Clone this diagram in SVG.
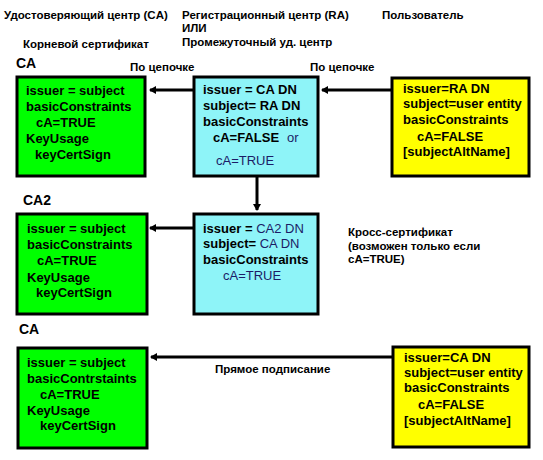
<svg xmlns="http://www.w3.org/2000/svg" width="543" height="460" viewBox="0 0 543 460">
<style>
text{font-family:"Liberation Sans",Arial,sans-serif;font-weight:bold;fill:#000}
.h{font-size:11.5px}
.ca{font-size:14px}
.b{font-size:13px}
.n{font-weight:normal;fill:#1c1c66}
.green{fill:#00ff00;stroke:#000;stroke-width:3}
.cyan{fill:#8ef4f8;stroke:#000;stroke-width:3}
.yellow{fill:#ffff00;stroke:#000;stroke-width:3}
.conn{stroke:#000;stroke-width:3;fill:none}
</style>
<defs>
<marker id="ah" markerWidth="8" markerHeight="8" refX="6" refY="4" orient="auto" markerUnits="userSpaceOnUse">
<path d="M0,0 L7,4 L0,8 Z" fill="#000"/>
</marker>
</defs>
<rect width="543" height="460" fill="#fff"/>
<g id="headers">
<text class="h" x="4" y="19">Удостоверяющий центр (CA)</text>
<text class="h" x="182" y="19">Регистрационный центр (RA)</text>
<text class="h" x="182" y="32">ИЛИ</text>
<text class="h" x="182" y="46">Промежуточный уд. центр</text>
<text class="h" x="382" y="19">Пользователь</text>
<text class="h" x="23" y="48">Корневой сертификат</text>
<text class="ca" x="16" y="68">CA</text>
<text class="ca" x="23" y="205">CA2</text>
<text class="ca" x="19" y="334">CA</text>
</g>
<g id="connectors">
<line class="conn" x1="194" y1="90" x2="150" y2="90" marker-end="url(#ah)"/>
<line class="conn" x1="392" y1="90" x2="322" y2="90" marker-end="url(#ah)"/>
<line class="conn" x1="257" y1="176" x2="257" y2="210" marker-end="url(#ah)"/>
<line class="conn" x1="194" y1="228" x2="150" y2="228" marker-end="url(#ah)"/>
<line class="conn" x1="393" y1="357" x2="151" y2="357" marker-end="url(#ah)"/>
<text class="h" x="130" y="71">По цепочке</text>
<text class="h" x="310" y="71">По цепочке</text>
<text class="h" x="215" y="373">Прямое подписание</text>
</g>
<g id="ca-root">
<rect class="green" x="17" y="77" width="128" height="99"/>
<text class="b" x="26" y="95">issuer = subject</text>
<text class="b" x="26" y="111">basicConstraints</text>
<text class="b" x="36" y="127">cA=TRUE</text>
<text class="b" x="26" y="143">KeyUsage</text>
<text class="b" x="35" y="159">keyCertSign</text>
</g>
<g id="ra-cert">
<rect class="cyan" x="194" y="77" width="124" height="99"/>
<text class="b" x="203" y="94">issuer = CA DN</text>
<text class="b" x="203" y="110">subject= RA DN</text>
<text class="b" x="203" y="126">basicConstraints</text>
<text class="b" x="213" y="142">cA=FALSE</text>
<text class="b n" x="287" y="142">or</text>
<text class="b n" x="216" y="165">cA=TRUE</text>
</g>
<g id="user-cert">
<rect class="yellow" x="392" y="78" width="137" height="98"/>
<text class="b" x="403" y="93">issuer=RA DN</text>
<text class="b" x="403" y="108">subject=user entity</text>
<text class="b" x="403" y="124">basicConstraints</text>
<text class="b" x="417" y="141">cA=FALSE</text>
<text class="b" x="403" y="156">[subjectAltName]</text>
</g>
<g id="ca2-root">
<rect class="green" x="17" y="214" width="130" height="100"/>
<text class="b" x="27" y="233">issuer = subject</text>
<text class="b" x="27" y="249">basicConstraints</text>
<text class="b" x="37" y="265">cA=TRUE</text>
<text class="b" x="27" y="282">KeyUsage</text>
<text class="b" x="36" y="297">keyCertSign</text>
</g>
<g id="cross-cert">
<rect class="cyan" x="194" y="214" width="124" height="100"/>
<text class="b" x="203" y="233">issuer = <tspan class="n">CA2 DN</tspan></text>
<text class="b" x="203" y="248">subject= <tspan class="n">CA DN</tspan></text>
<text class="b" x="203" y="264">basicConstraints</text>
<text class="b n" x="223" y="280">cA=TRUE</text>
</g>
<g id="cross-note">
<text class="h" x="348" y="236">Кросс-сертификат</text>
<text class="h" x="348" y="250">(возможен только если</text>
<text class="h" x="348" y="263">cA=TRUE)</text>
</g>
<g id="ca-root-2">
<rect class="green" x="18" y="348" width="129" height="100"/>
<text class="b" x="27" y="367">issuer = subject</text>
<text class="b" x="27" y="383">basicContrstaints</text>
<text class="b" x="40" y="399">cA=TRUE</text>
<text class="b" x="27" y="415">KeyUsage</text>
<text class="b" x="40" y="430">keyCertSign</text>
</g>
<g id="user-cert-2">
<rect class="yellow" x="393" y="347" width="136" height="100"/>
<text class="b" x="404" y="362">issuer=CA DN</text>
<text class="b" x="404" y="377">subject=user entity</text>
<text class="b" x="404" y="392">basicConstraints</text>
<text class="b" x="418" y="409">cA=FALSE</text>
<text class="b" x="404" y="425">[subjectAltName]</text>
</g>
</svg>
